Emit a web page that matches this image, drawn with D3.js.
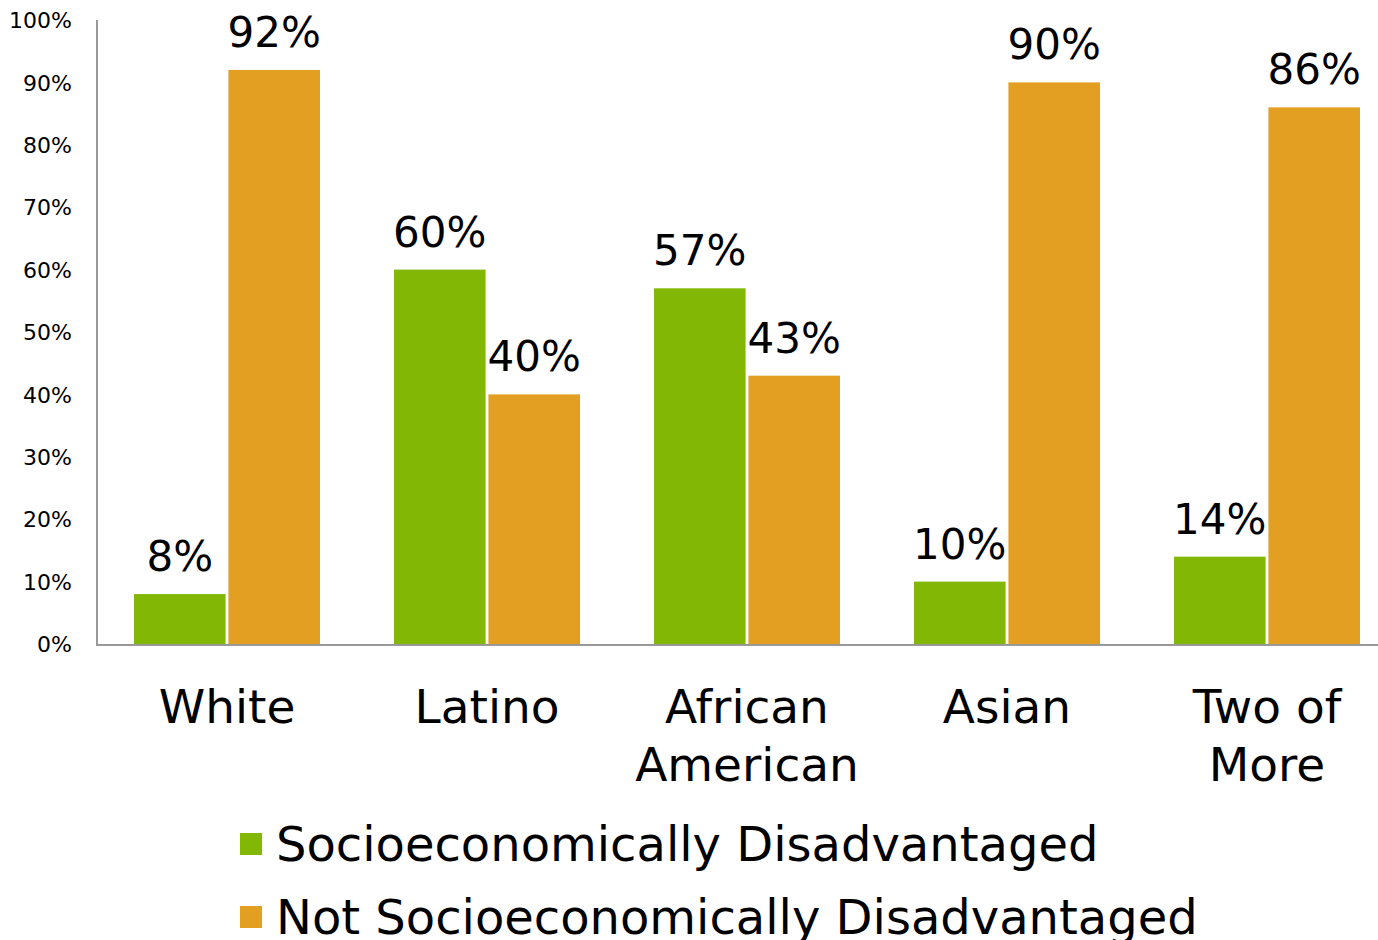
<!DOCTYPE html>
<html><head><meta charset="utf-8">
<script src="https://cdn.jsdelivr.net/npm/d3@7"></script>
<style>body{margin:0;background:#fff}svg{display:block}text{font-family:"DejaVu Sans",sans-serif;fill:#000}</style>
</head><body><svg id="c" width="1378" height="940"></svg>
<script>
const categories = [["White"],["Latino"],["African","American"],["Asian"],["Two of","More"]];
const seriesNames = ["Socioeconomically Disadvantaged","Not Socioeconomically Disadvantaged"];
const disadvantaged = [8,60,57,10,14];
const notDisadvantaged = [92,40,43,90,86];
const yTicks = [0,10,20,30,40,50,60,70,80,90,100];
const colors = ["#82B706","#E29F21"];

const svg = d3.select("#c");
const catKeys = categories.map(c=>c.join(" "));
const x0 = d3.scaleBand().domain(catKeys).range([97,1397]).paddingInner(0.2846).paddingOuter(0.1423);
const x1 = d3.scaleBand().domain([0,1]).range([0,x0.bandwidth()]).paddingInner(0.03);
const y = d3.scaleLinear().domain([0,100]).range([644,20]);
const series = [disadvantaged, notDisadvantaged];

// y tick labels
const yAxis = d3.axisLeft(y).tickValues(yTicks).tickFormat(d=>d+"%").tickSize(0).tickPadding(25);
const gy = svg.append("g").attr("transform","translate(97,0)").call(yAxis);
gy.select(".domain").remove();
gy.selectAll("text").style("font-size","22px").style("font-family","DejaVu Sans").attr("fill","#000").attr("dy","0.35em");

// bars
catKeys.forEach((k,i)=>{
  series.forEach((s,j)=>{
    const v = s[i];
    const bx = x0(k)+x1(j);
    svg.append("rect").attr("x",bx).attr("y",y(v)).attr("width",x1.bandwidth()).attr("height",y(0)-y(v)).attr("fill",colors[j]);
    svg.append("text").attr("x",bx+x1.bandwidth()/2).attr("y",y(v)-23).attr("text-anchor","middle").style("font-size","42px").text(v+"%");
  });
});

// axis lines
svg.append("line").attr("x1",97).attr("x2",97).attr("y1",y(100)).attr("y2",y(0)+1).attr("stroke","#999").attr("stroke-width",2);
svg.append("line").attr("x1",96).attr("x2",1378).attr("y1",y(0)+1).attr("y2",y(0)+1).attr("stroke","#999").attr("stroke-width",2);

// category labels
categories.forEach((c,i)=>{
  const cx = x0(catKeys[i])+x0.bandwidth()/2;
  const t = svg.append("text").attr("x",cx).attr("y",723).attr("text-anchor","middle").style("font-size","47px");
  c.forEach((line,li)=>t.append("tspan").attr("x",cx).attr("dy",li?58:0).text(line));
});

// legend
seriesNames.forEach((n,j)=>{
  const ly = 844 + j*73;
  svg.append("rect").attr("x",240).attr("y",ly-11).attr("width",22).attr("height",22).attr("fill",colors[j]);
  svg.append("text").attr("x",276).attr("y",ly+17).style("font-size","48px").text(n);
});
</script></body></html>
